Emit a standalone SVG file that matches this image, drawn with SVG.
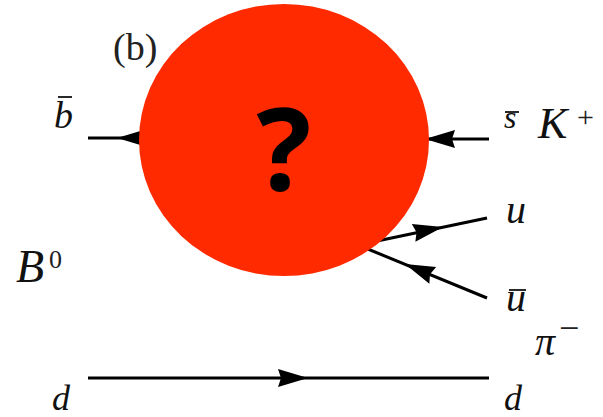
<svg xmlns="http://www.w3.org/2000/svg" width="603" height="417" viewBox="0 0 603 417">
<style>
.ln{stroke:#000;stroke-width:3;fill:none}
.ah{fill:#000}
.m{font-family:"Liberation Serif","Times New Roman",serif;font-style:italic;fill:#111}
.r{font-family:"Liberation Serif","Times New Roman",serif;fill:#222}
.bar{stroke:#111;stroke-width:1.8}
</style>
<defs>
<path id="arr" d="M0,0 L-30,-9 L-27,0 L-30,9 Z"/>
</defs>
<rect width="603" height="417" fill="#fff"/>
<g id="connectors">
<line class="ln" x1="88" y1="138" x2="284" y2="138"/>
<line class="ln" x1="284" y1="139" x2="489" y2="139"/>
<line class="ln" x1="358" y1="245" x2="487" y2="218"/>
<line class="ln" x1="358" y1="245" x2="487" y2="298"/>
<line class="ln" x1="88" y1="378" x2="489" y2="378"/>
<use href="#arr" class="ah" transform="translate(117,138) rotate(180)"/>
<use href="#arr" class="ah" transform="translate(425,139) rotate(180)"/>
<use href="#arr" class="ah" transform="translate(443,227) rotate(-11.4)"/>
<use href="#arr" class="ah" transform="translate(405,264) rotate(202.3)"/>
<use href="#arr" class="ah" transform="translate(308,378)"/>
</g>
<g id="blob">
<ellipse cx="284" cy="140" rx="145" ry="136" fill="#ff2a00"/>
<text x="284" y="190" text-anchor="middle" font-family="'Open Sans','Noto Sans',sans-serif" font-weight="bold" font-size="115" fill="#000">?</text>
</g>
<g id="label-b-panel"><text class="r" x="113" y="60" font-size="38" fill="#444">(b)</text></g>
<g id="label-bbar"><text class="m" x="54" y="128" font-size="38">b</text><line class="bar" x1="58" y1="97" x2="72" y2="97"/></g>
<g id="label-sbar-K"><text class="m" x="504" y="128" font-size="32">s</text><line class="bar" x1="505" y1="112" x2="519" y2="112"/><text class="m" x="538" y="138" font-size="44">K</text><text class="r" x="577" y="127" font-size="30">+</text></g>
<g id="label-u"><text class="m" x="506" y="223" font-size="40">u</text></g>
<g id="label-ubar"><text class="m" x="506" y="311" font-size="40">u</text><line class="bar" x1="509" y1="290" x2="526" y2="290"/></g>
<g id="label-pi"><text class="m" x="535" y="355" font-size="40">π</text><text class="r" x="559" y="340" font-size="36">−</text></g>
<g id="label-B0"><text class="m" x="16" y="282" font-size="46">B</text><text class="r" x="49" y="268" font-size="26">0</text></g>
<g id="label-d-left"><text class="m" x="52" y="410" font-size="36">d</text></g>
<g id="label-d-right"><text class="m" x="504" y="410" font-size="36">d</text></g>
</svg>
